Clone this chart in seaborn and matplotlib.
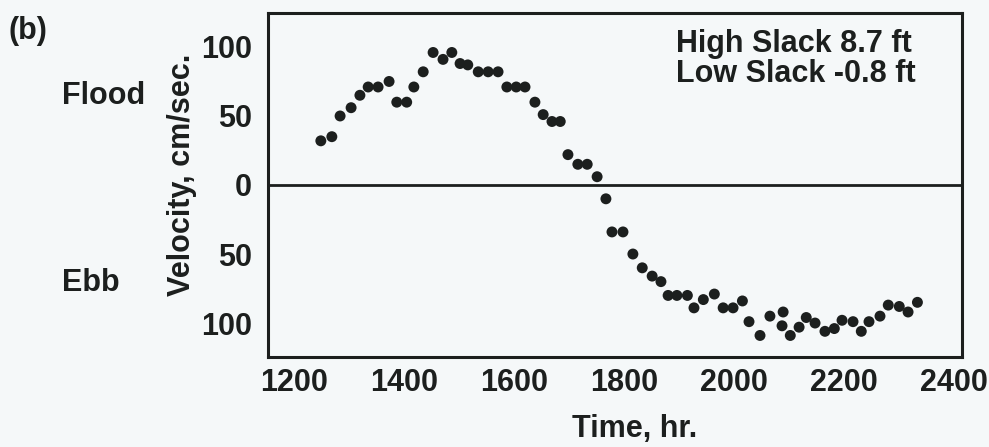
import matplotlib
matplotlib.use("Agg")
import matplotlib.pyplot as plt
import seaborn as sns
import pandas as pd
from matplotlib.ticker import FixedLocator, FuncFormatter

time_hr = [1249, 1269, 1284, 1304, 1320, 1335, 1353, 1373, 1387, 1405, 1418, 1435,
           1453, 1471, 1487, 1502, 1516, 1535, 1553, 1571, 1587, 1604, 1620, 1638,
           1653, 1669, 1684, 1698, 1716, 1733, 1751, 1767, 1778, 1798, 1816, 1833,
           1851, 1867, 1880, 1896, 1915, 1927, 1944, 1964, 1980, 1998, 2015, 2027,
           2047, 2065, 2087, 2089, 2102, 2118, 2131, 2147, 2165, 2182, 2196, 2216,
           2231, 2245, 2265, 2280, 2300, 2316, 2333]
velocity = [32, 35, 50, 56, 65, 71, 71, 75, 60, 60, 71, 82,
            96, 91, 96, 88, 87, 82, 82, 82, 71, 71, 71, 60,
            51, 46, 46, 22, 15, 15, 6, -10, -34, -34, -50, -60,
            -66, -70, -80, -80, -80, -89, -83, -79, -89, -89, -84, -99,
            -109, -95, -102, -92, -109, -103, -96, -100, -106, -104, -98, -99,
            -106, -99, -95, -87, -88, -92, -85]
x_ticks = [1200, 1400, 1600, 1800, 2000, 2200, 2400]
y_ticks = [-100, -50, 0, 50, 100]

df = pd.DataFrame({"Time": time_hr, "Velocity": velocity})

sns.set_style("white")
ink = "#1c1f1e"
bg = "#f5f8f9"
plt.rcParams["font.family"] = ["Liberation Sans", "DejaVu Sans"]
plt.rcParams["font.weight"] = "bold"
FS = 22

fig = plt.figure(figsize=(9.89, 4.47), dpi=100, facecolor=bg)
W, H = 989, 447
ax = fig.add_axes([268/W, 1 - 357/H, (962-268)/W, (357-13)/H])
ax.set_facecolor(bg)

sns.scatterplot(data=df, x="Time", y="Velocity", ax=ax, color=ink, s=62,
                edgecolor="none", legend=False, zorder=3)

ax.axhline(0, color=ink, lw=2, zorder=2)
ax.set_xlim(1153, 2414)
ax.set_ylim(-124.6, 124.6)
ax.xaxis.set_major_locator(FixedLocator(x_ticks))
ax.yaxis.set_major_locator(FixedLocator(y_ticks))
ax.yaxis.set_major_formatter(FuncFormatter(lambda v, p: f"{abs(int(v))}"))

for s in ax.spines.values():
    s.set_visible(True)
    s.set_color(ink)
    s.set_linewidth(2.2)

ax.tick_params(axis="y", direction="in", length=13, width=1.5, color=ink,
               labelsize=FS, labelcolor=ink, pad=11.5)
ax.tick_params(axis="x", direction="in", length=10, width=1.5, color=ink,
               labelsize=FS, labelcolor=ink, pad=8)
for lbl in ax.get_xticklabels() + ax.get_yticklabels():
    lbl.set_fontweight("bold")

ax.set_xlabel("Time, hr.", fontsize=FS, fontweight="bold", color=ink)
ax.set_ylabel("Velocity, cm/sec.", fontsize=FS, fontweight="bold", color=ink)
ax.xaxis.set_label_coords((635-268)/694, -(414-357)/344)
ax.yaxis.set_label_coords(-(268-197)/694, (357-175)/344)

fig.text(8/W, 1 - 31/H, "(b)", fontsize=FS, fontweight="bold", color=ink,
         ha="left", va="center")
fig.text(62/W, 1 - 96/H, "Flood", fontsize=FS, fontweight="bold", color=ink,
         ha="left", va="center")
fig.text(62/W, 1 - 283/H, "Ebb", fontsize=FS, fontweight="bold", color=ink,
         ha="left", va="center")
fig.text(676/W, 1 - 44/H, "High Slack 8.7 ft", fontsize=FS, fontweight="bold",
         color=ink, ha="left", va="center")
fig.text(676/W, 1 - 74/H, "Low Slack -0.8 ft", fontsize=FS, fontweight="bold",
         color=ink, ha="left", va="center")

fig.savefig("out.png", dpi=100, facecolor=bg)
